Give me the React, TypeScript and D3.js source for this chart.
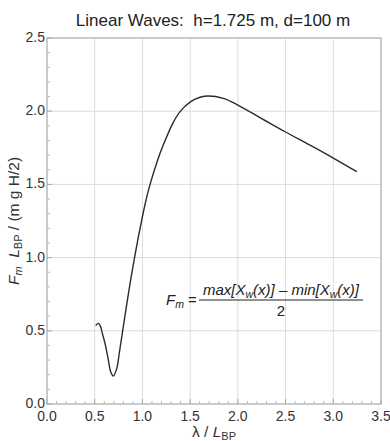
import React from "react";
import * as d3 from "d3";

const lambdaVals = [0.51, 0.538, 0.56, 0.585, 0.608, 0.643, 0.667, 0.695, 0.73, 0.758, 0.793, 0.84, 0.88, 0.92, 0.96, 1.0, 1.04, 1.08, 1.16, 1.213, 1.318, 1.394, 1.506, 1.604, 1.69, 1.848, 2.0, 2.25, 2.5, 2.75, 3.0, 3.246];
const fmVals = [0.535, 0.551, 0.53, 0.47, 0.414, 0.30, 0.22, 0.191, 0.24, 0.35, 0.50, 0.70, 0.86, 1.01, 1.15, 1.28, 1.40, 1.5, 1.667, 1.76, 1.917, 1.997, 2.065, 2.095, 2.104, 2.088, 2.042, 1.95, 1.858, 1.77, 1.68, 1.587];
const xTicks = [0, 0.5, 1.0, 1.5, 2.0, 2.5, 3.0, 3.5];
const yTicks = [0, 0.5, 1.0, 1.5, 2.0, 2.5];
const titleText = "Linear Waves:\u00a0 h=1.725 m, d=100 m";

export default function App() {
  const W = 390, H = 441;
  const L = 47, R = 381, T = 38, B = 404;
  const x = d3.scaleLinear().domain([0, 3.5]).range([L, R]);
  const y = d3.scaleLinear().domain([0, 2.5]).range([B, T]);
  const data = lambdaVals.map((l, i) => [l, fmVals[i]] as [number, number]);
  const line = d3.line<[number, number]>().x(d => x(d[0])).y(d => y(d[1])).curve(d3.curveCatmullRom.alpha(0.5));
  const minorX = d3.range(0, 3.5001, 0.1).filter(v => Math.abs(v * 2 - Math.round(v * 2)) > 1e-6);
  const minorY = d3.range(0, 2.5001, 0.1).filter(v => Math.abs(v * 2 - Math.round(v * 2)) > 1e-6);
  const font = "'Liberation Sans', Arial, sans-serif";
  return (
    <svg width={W} height={H} style={{ position: "absolute", left: 0, top: 0, fontFamily: font }}>
      <rect width={W} height={H} fill="white" />
      {xTicks.map(t => <line key={"gx" + t} x1={x(t)} x2={x(t)} y1={T} y2={B} stroke="#dcdcdc" strokeWidth={1} />)}
      {yTicks.map(t => <line key={"gy" + t} x1={L} x2={R} y1={y(t)} y2={y(t)} stroke="#dcdcdc" strokeWidth={1} />)}
      <rect x={L} y={T} width={R - L} height={B - T} fill="none" stroke="#a8a8a8" strokeWidth={1} />
      {xTicks.map(t => <line key={"tx" + t} x1={x(t)} x2={x(t)} y1={B} y2={B - 5} stroke="#a8a8a8" />)}
      {minorX.map(t => <line key={"mx" + t} x1={x(t)} x2={x(t)} y1={B} y2={B - 3} stroke="#b8b8b8" />)}
      {yTicks.map(t => <line key={"ty" + t} x1={L} x2={L + 5} y1={y(t)} y2={y(t)} stroke="#a8a8a8" />)}
      {minorY.map(t => <line key={"my" + t} x1={L} x2={L + 3} y1={y(t)} y2={y(t)} stroke="#b8b8b8" />)}
      <path d={line(data) || ""} fill="none" stroke="#2a2a2a" strokeWidth={1.4} />
      {xTicks.map(t => <text key={"lx" + t} x={x(t)} y={B + 17} textAnchor="middle" fontSize={14} fill="#333">{t.toFixed(1)}</text>)}
      {yTicks.map(t => <text key={"ly" + t} x={L - 2} y={y(t) + 4} textAnchor="end" fontSize={14} fill="#333">{t.toFixed(1)}</text>)}
      <text x={213} y={26} textAnchor="middle" fontSize={17} fill="#222">{titleText}</text>
      <text x={(L + R) / 2} y={437} textAnchor="middle" fontSize={15.5} fill="#333">
        λ / <tspan fontStyle="italic">L</tspan><tspan fontSize={11} dy={3}>BP</tspan>
      </text>
      <text transform={`translate(19,${(T + B) / 2}) rotate(-90)`} textAnchor="middle" fontSize={15.5} fill="#333">
        <tspan fontStyle="italic">F</tspan><tspan fontStyle="italic" fontSize={11} dy={3}>m</tspan>
        <tspan dy={-3}>{"\u00a0 "}</tspan><tspan fontStyle="italic">L</tspan><tspan fontSize={11} dy={3}>BP</tspan>
        <tspan dy={-3}> / (m g H/2)</tspan>
      </text>
      <g fontSize={15} fill="#222">
        <text x={166} y={305} fontStyle="italic">F<tspan fontSize={10.5} dy={3}>m</tspan></text>
        <text x={188} y={305}>=</text>
        <text x={281} y={295} textAnchor="middle" fontStyle="italic">
          max[X<tspan fontSize={10.5} dy={3}>w</tspan><tspan dy={-3}>(x)] – min[X</tspan><tspan fontSize={10.5} dy={3}>w</tspan><tspan dy={-3}>(x)]</tspan>
        </text>
        <line x1={199} x2={363} y1={300} y2={300} stroke="#222" strokeWidth={1} />
        <text x={281} y={316} textAnchor="middle">2</text>
      </g>
    </svg>
  );
}
